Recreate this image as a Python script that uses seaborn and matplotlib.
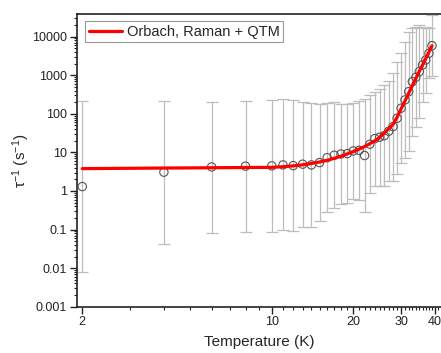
import numpy as np
import pandas as pd
import matplotlib
matplotlib.use("Agg")
import matplotlib.pyplot as plt
import matplotlib.ticker as mticker
import seaborn as sns

# ---- data ----
temperature = [2, 4, 6, 8, 10, 11, 12, 13, 14, 15, 16, 17, 18, 19, 20, 21, 22, 23, 24,
               25, 26, 27, 28, 29, 30, 31, 32, 33, 34, 35, 36, 37, 38, 39]
rate = [1.3, 3.07, 4.2, 4.4, 4.47, 4.74, 4.55, 4.95, 4.74, 5.44, 7.3, 8.45, 9.1, 9.3,
        10.9, 11.3, 8.3, 16.3, 22.8, 24.8, 27.2, 35.4, 46.6, 76.9, 140, 229, 376, 682,
        887, 1240, 1850, 2490, 3715, 5850]
rate_upper = [216, 217, 205, 220, 235, 237, 228, 206, 189, 180, 188, 198, 182, 177, 190,
              216, 239, 303, 378, 451, 544, 708, 1170, 2170, 3770, 7240, 13300, 17100,
              17700, 19600, 16500, 17600, 16600, 36900]
rate_lower = [0.0078, 0.0434, 0.082, 0.088, 0.085, 0.095, 0.091, 0.119, 0.119, 0.164,
              0.284, 0.361, 0.455, 0.487, 0.627, 0.592, 0.288, 0.876, 1.37, 1.36, 1.36,
              1.77, 1.86, 2.73, 5.2, 7.25, 10.6, 27.2, 44.4, 78, 208, 352, 831, 928]

fit_temperature = [2, 10, 11, 12, 13, 14, 15, 16, 17, 18, 19, 20, 21, 22, 23, 24, 25, 26,
                   27, 28, 29, 30, 31, 32, 33, 34, 35, 36, 37, 38, 39]
fit_rate = [3.8, 4.10, 4.26, 4.47, 4.77, 5.15, 5.64, 6.26, 7.03, 7.97, 9.12, 10.5, 12.2,
            14.2, 16.8, 20.0, 24.6, 31.4, 41.0, 53, 82, 135, 215, 345, 540, 830, 1250,
            1850, 2750, 4000, 5800]

x_major = [2, 10, 20, 30, 40]
x_major_labels = ["2", "10", "20", "30", "40"]
y_major = [0.001, 0.01, 0.1, 1, 10, 100, 1000, 10000]
y_major_labels = ["0.001", "0.01", "0.1", "1", "10", "100", "1000", "10000"]
legend_label = "Orbach, Raman + QTM"

# ---- style ----
sns.set_theme(style="ticks")
plt.rcParams["font.family"] = ["Liberation Sans", "DejaVu Sans"]
plt.rcParams["mathtext.fontset"] = "custom"
plt.rcParams["mathtext.rm"] = "Liberation Sans"
plt.rcParams["mathtext.it"] = "Liberation Sans:italic"

df = pd.DataFrame({"T": temperature, "rate": rate, "lo": rate_lower, "hi": rate_upper})
fit = pd.DataFrame({"T": fit_temperature, "rate": fit_rate})

fig = plt.figure(figsize=(4.41, 3.53), dpi=100)
ax = fig.add_axes([77 / 441, (353 - 306.7) / 353, (441 - 77) / 441, 292.7 / 353])
ax.set_xscale("log")
ax.set_yscale("log")

yerr = np.array([df["rate"] - df["lo"], df["hi"] - df["rate"]])
ax.errorbar(df["T"], df["rate"], yerr=yerr, fmt="none", ecolor="#bdbdbd",
            elinewidth=0.9, capsize=4, capthick=0.9, zorder=1)
sns.scatterplot(data=df, x="T", y="rate", ax=ax, marker="o", s=36,
                facecolor="none", edgecolor="#555555", linewidth=0.8, zorder=3,
                legend=False)
sns.lineplot(data=fit, x="T", y="rate", ax=ax, color="#ff0000", linewidth=2.3,
             label=legend_label, zorder=4, sort=True)

ax.set_xlim(1.912, 42.1)
ax.set_ylim(0.001, 38700)

ax.xaxis.set_major_locator(mticker.FixedLocator(x_major))
ax.xaxis.set_major_formatter(mticker.FixedFormatter(x_major_labels))
minor_x = [v for v in range(3, 42) if v not in x_major]
ax.xaxis.set_minor_locator(mticker.FixedLocator(minor_x))
ax.xaxis.set_minor_formatter(mticker.NullFormatter())

ax.yaxis.set_major_locator(mticker.FixedLocator(y_major))
ax.yaxis.set_major_formatter(mticker.FixedFormatter(y_major_labels))
ax.yaxis.set_minor_locator(mticker.LogLocator(base=10, subs=np.arange(2, 10), numticks=20))
ax.yaxis.set_minor_formatter(mticker.NullFormatter())

ax.tick_params(axis="both", which="major", direction="out", length=5, width=1.0,
               labelsize=9, colors="#222222", pad=2)
ax.tick_params(axis="both", which="minor", direction="out", length=2.5, width=0.8,
               colors="#222222")
ax.tick_params(top=False, right=False)
for s in ["left", "bottom", "top"]:
    ax.spines[s].set_linewidth(1.2)
    ax.spines[s].set_color("#222222")
ax.spines["right"].set_visible(False)

ax.set_xlabel("Temperature (K)", fontsize=11, labelpad=5)
ax.set_ylabel(r"$\mathregular{\tau^{-1}\ (s^{-1})}$", fontsize=11, labelpad=0)

leg = ax.legend(loc="upper left", bbox_to_anchor=(0.022, 0.976), borderaxespad=0,
                fontsize=10.5, handlelength=2.3, handletextpad=0.3, borderpad=0.25,
                frameon=True, fancybox=False, framealpha=1)
leg.get_frame().set_edgecolor("#999999")
leg.get_frame().set_linewidth(0.8)

fig.savefig("out.png", dpi=100)
